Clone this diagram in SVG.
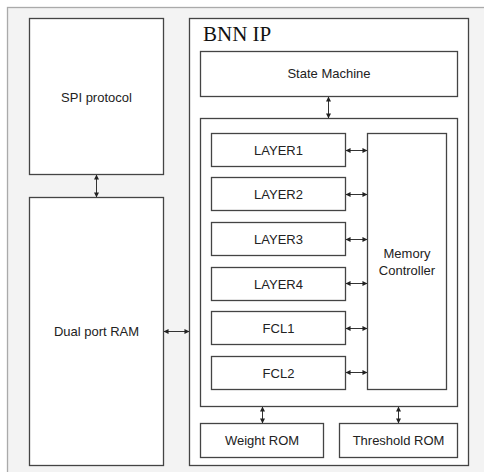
<svg xmlns="http://www.w3.org/2000/svg" width="484" height="472" viewBox="0 0 484 472">
<defs>
<style>
.box{fill:#fff;stroke:#444;stroke-width:1.3}
.lbl{font-family:"Liberation Sans",Arial,sans-serif;font-size:13px;fill:#222;text-anchor:middle;dominant-baseline:central}
.con{stroke:#333;stroke-width:1;fill:none;marker-start:url(#ah);marker-end:url(#ah)}
</style>
<marker id="ah" viewBox="0 0 6 6" refX="5.5" refY="3" markerWidth="5" markerHeight="5" markerUnits="userSpaceOnUse" orient="auto-start-reverse">
<path d="M0,0 L6,3 L0,6 z" fill="#222"/>
</marker>
</defs>
<rect x="0" y="0" width="484" height="472" fill="#fff"/>
<rect x="7.5" y="7.5" width="490" height="480" fill="#f3f3f3" stroke="#aaa" stroke-width="1.3"/>
<g id="spi"><rect class="box" x="29.5" y="18.5" width="134" height="156"/><text class="lbl" x="96.5" y="97">SPI protocol</text></g>
<g id="ram"><rect class="box" x="29.5" y="197.5" width="134" height="268"/><text class="lbl" x="96.5" y="331">Dual port RAM</text></g>
<g id="bnn"><rect class="box" x="189.5" y="18.5" width="279" height="447"/><text x="203" y="41" font-family="'Liberation Serif','Times New Roman',serif" font-size="21" fill="#111">BNN IP</text></g>
<g id="state"><rect class="box" x="200.5" y="51.5" width="257" height="45"/><text class="lbl" x="329" y="73">State Machine</text></g>
<g id="core"><rect class="box" x="200.5" y="118.5" width="257" height="288"/></g>
<g id="layer1"><rect class="box" x="211.5" y="133.5" width="134" height="33"/><text class="lbl" x="278.5" y="150">LAYER1</text></g>
<g id="layer2"><rect class="box" x="211.5" y="177.5" width="134" height="33"/><text class="lbl" x="278.5" y="194">LAYER2</text></g>
<g id="layer3"><rect class="box" x="211.5" y="222.5" width="134" height="33"/><text class="lbl" x="278.5" y="239">LAYER3</text></g>
<g id="layer4"><rect class="box" x="211.5" y="267.5" width="134" height="33"/><text class="lbl" x="278.5" y="284">LAYER4</text></g>
<g id="fcl1"><rect class="box" x="211.5" y="311.5" width="134" height="33"/><text class="lbl" x="278.5" y="328">FCL1</text></g>
<g id="fcl2"><rect class="box" x="211.5" y="356.5" width="134" height="33"/><text class="lbl" x="278.5" y="373">FCL2</text></g>
<g id="memctrl"><rect class="box" x="367.5" y="133.5" width="79" height="256"/><text class="lbl" x="407" y="253">Memory</text><text class="lbl" x="407" y="270">Controller</text></g>
<g id="wrom"><rect class="box" x="200.5" y="423.5" width="123" height="34"/><text class="lbl" x="262" y="440.5">Weight ROM</text></g>
<g id="trom"><rect class="box" x="339.5" y="423.5" width="118" height="34"/><text class="lbl" x="398.5" y="440.5">Threshold ROM</text></g>
<g id="connectors">
<line class="con" x1="96.5" y1="175" x2="96.5" y2="197"/>
<line class="con" x1="164" y1="331.5" x2="189" y2="331.5"/>
<line class="con" x1="328.5" y1="97" x2="328.5" y2="118"/>
<line class="con" x1="346" y1="150.5" x2="367" y2="150.5"/>
<line class="con" x1="346" y1="194.5" x2="367" y2="194.5"/>
<line class="con" x1="346" y1="239.5" x2="367" y2="239.5"/>
<line class="con" x1="346" y1="283.5" x2="367" y2="283.5"/>
<line class="con" x1="346" y1="328.5" x2="367" y2="328.5"/>
<line class="con" x1="346" y1="372.5" x2="367" y2="372.5"/>
<line class="con" x1="262.5" y1="407" x2="262.5" y2="423"/>
<line class="con" x1="398.5" y1="407" x2="398.5" y2="423"/>
</g>
</svg>
